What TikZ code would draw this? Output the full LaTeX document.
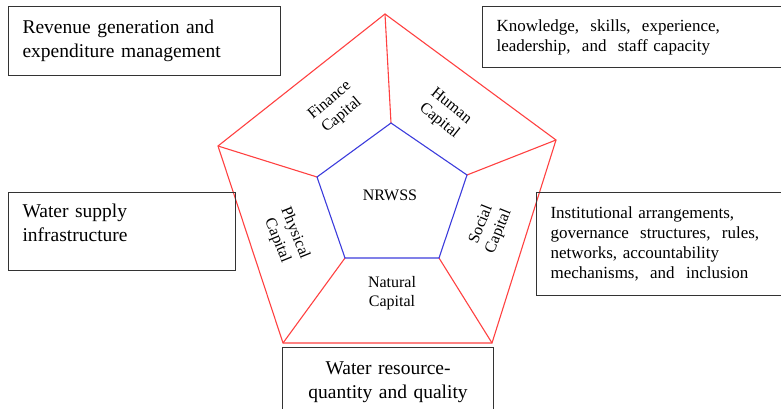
\documentclass[tikz,border=0pt]{standalone}
\usepackage{fontspec}
\setmainfont{Liberation Serif}
\usetikzlibrary{positioning}
\definecolor{ringred}{RGB}{255,65,65}
\definecolor{coreblue}{RGB}{60,60,220}
\tikzset{infobox/.style={draw=black!80, line width=1.1pt, anchor=north west, inner xsep=14pt, inner ysep=0pt},
         bigtext/.style={font=\fontsize{19.5}{24}\selectfont},
         smalltext/.style={font=\fontsize{17}{20}\selectfont},
         capital/.style={font=\fontsize{16}{19}\selectfont, align=center, inner sep=0pt},
         ring/.style={ringred, line width=1.1pt},
         core/.style={coreblue, line width=1.1pt}}

\begin{document}
\begin{tikzpicture}[x=1pt, y=-1pt]
            \useasboundingbox (0,0) rectangle (781,409);

            \coordinate (o_top) at (385,14);
            \coordinate (o_left) at (218,146);
            \coordinate (o_right) at (556,140);
            \coordinate (o_bleft) at (283,343);
            \coordinate (o_bright) at (492,343);
            \coordinate (i_top) at (391,123);
            \coordinate (i_left) at (317,177);
            \coordinate (i_right) at (467,175);
            \coordinate (i_bleft) at (345,258);
            \coordinate (i_bright) at (439,258);

            \draw[ring] (o_top) -- (o_right) -- (o_bright) -- (o_bleft) -- (o_left) -- cycle;
            \foreach \v in {top,left,right,bleft,bright}
                  \draw[ring] (o_\v) -- (i_\v);
            \draw[core] (i_top) -- (i_right) -- (i_bright) -- (i_bleft) -- (i_left) -- cycle;

            \node[capital] (nrwss) at (390,195) {NRWSS};
            \node[capital, rotate=40] (finance) at (336,108) {Finance\\Capital};
            \node[capital, rotate=-39] (human) at (445,114) {Human\\Capital};
            \node[capital, rotate=-68] (physical) at (286,237) {Physical\\Capital};
            \node[capital, rotate=68] (social) at (490,228) {Social\\Capital};
            \node[capital] (natural) at (392,293) {Natural\\Capital};

            \node[infobox, bigtext, align=left, text width=244pt, minimum height=69pt] (revenue_box) at (8,6)
                  {Revenue generation and\\expenditure management};
            \node[infobox, smalltext, align=left, text width=272pt, minimum height=61pt] (knowledge_box) at (482,6)
                  {Knowledge, \ skills, \ experience,\\leadership, \ and \ staff capacity};
            \node[infobox, bigtext, align=left, text width=199pt, minimum height=78pt] (supply_box) at (8,192)
                  {Water supply\\infrastructure\\[-6pt]\mbox{}};
            \node[infobox, smalltext, align=left, text width=218pt, minimum height=103pt] (institution_box) at (536,192)
                  {Institutional arrangements,\\governance \ structures, \ rules,\\networks, accountability\\mechanisms, \ and \ inclusion};
            \node[infobox, bigtext, align=center, text width=183pt, minimum height=70pt] (resource_box) at (282,347)
                  {Water resource-\\quantity and quality};
      \end{tikzpicture}
\end{document}
